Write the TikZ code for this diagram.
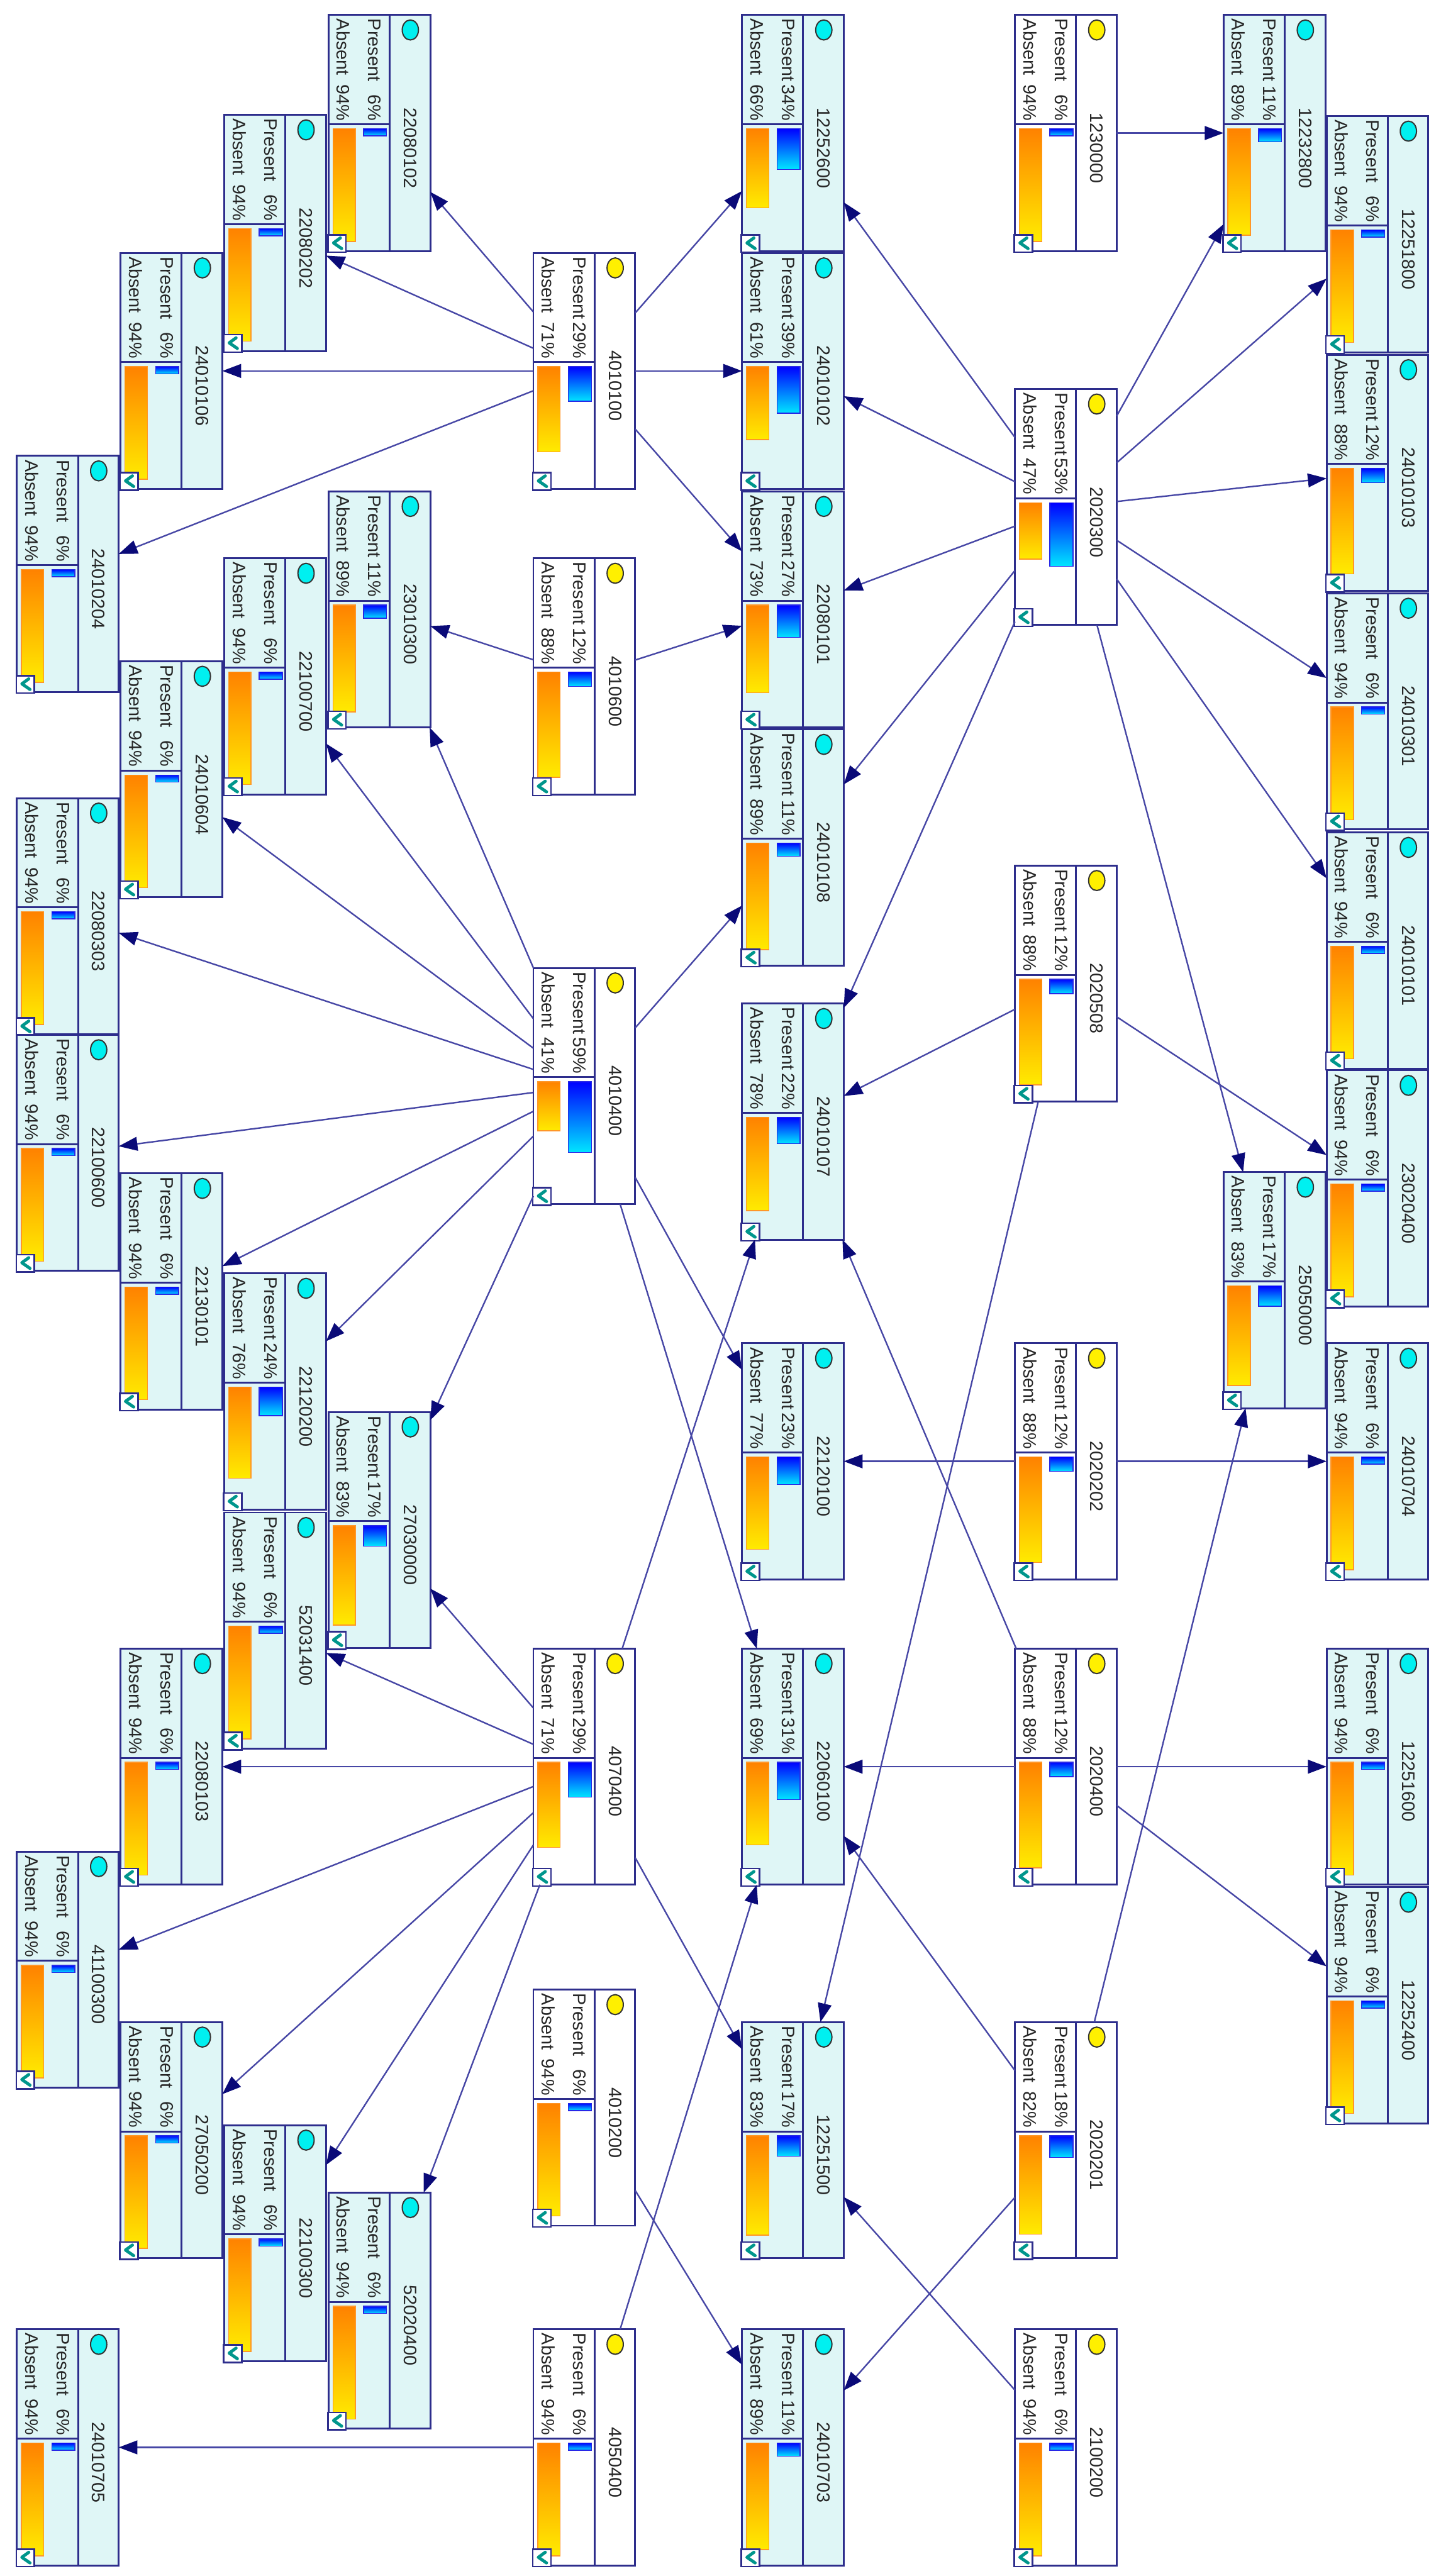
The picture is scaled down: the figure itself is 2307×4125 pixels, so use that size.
\documentclass[tikz,border=0pt]{standalone}
\usepackage{fontspec}
\setmainfont{Liberation Sans}
\usetikzlibrary{arrows.meta}
\definecolor{bnborder}{RGB}{45,45,140}
\definecolor{bnedge}{RGB}{70,70,165}
\definecolor{bnhead}{RGB}{10,10,120}
\definecolor{bncyanbg}{RGB}{223,246,246}
\definecolor{bncirc}{RGB}{0,240,240}
\definecolor{bnyel}{RGB}{255,240,0}
\definecolor{bnorangeA}{RGB}{255,130,0}
\definecolor{bnorangeB}{RGB}{255,235,0}
\definecolor{bnorangeL}{RGB}{255,150,40}
\definecolor{bnblueA}{RGB}{0,0,255}
\definecolor{bnblueB}{RGB}{0,230,255}
\definecolor{bnblueL}{RGB}{40,40,230}
\definecolor{bnchk}{RGB}{0,150,140}
\tikzset{
  bnbox/.style={draw=bnborder, line width=3pt, minimum width=163pt, minimum height=378pt, inner sep=0pt, outer sep=0pt, rectangle},
  bnline/.style={draw=bnborder, line width=3pt},
  bntext/.style={rotate=-90, inner sep=0pt, font=\fontsize{29}{34}\selectfont, text=black!85},
  bnedgestyle/.style={draw=bnedge, line width=2.4pt, -{Triangle[length=30pt,width=22pt,color=bnhead]}},
}
% #1 label, #2 left, #3 top, #4 present, #5 absent, #6 background, #7 circle colour
\newcommand{\bnnode}[7]{%
  \node[bnbox, fill=#6] (n#1) at ({#2+81.5},{#3+189}) {};
  \draw[bnline] ({#2+98},{#3}) -- ({#2+98},{#3+378});
  \draw[bnline] ({#2},{#3+175}) -- ({#2+98},{#3+175});
  \draw[draw=black!80, line width=2pt, fill=#7] ({#2+131},{#3+24}) ellipse [x radius=13pt, y radius=16pt];
  \node[bntext] at ({#2+131},{#3+213}) {#1};
  \node[bntext, anchor=west] at ({#2+74},{#3+6}) {\makebox[163pt]{Present\hfill #4\%}};
  \node[bntext, anchor=west] at ({#2+24},{#3+6}) {\makebox[163pt]{Absent\hfill #5\%}};
  \shadedraw[top color=bnorangeA, bottom color=bnorangeB, draw=bnorangeL, line width=1.5pt] ({#2+7},{#3+182}) rectangle ({#2+43},{#3+182+1.92*#5});
  \shadedraw[top color=bnblueA, bottom color=bnblueB, draw=bnblueL, line width=1.5pt] ({#2+56},{#3+182}) rectangle ({#2+93},{#3+182+1.92*#4});
  \draw[draw=bnborder, line width=2.5pt, fill=white] ({#2-1},{#3+352}) rectangle ({#2+28},{#3+380});
  \draw[draw=bnchk, line width=5pt, line cap=round, line join=round] ({#2+19},{#3+357}) -- ({#2+8},{#3+365}) -- ({#2+21},{#3+374});
}
\newcommand{\bnP}[5]{\bnnode{#1}{#2}{#3}{#4}{#5}{white}{bnyel}}
\newcommand{\bnC}[5]{\bnnode{#1}{#2}{#3}{#4}{#5}{bncyanbg}{bncirc}}
\begin{document}
\begin{tikzpicture}[x=1pt,y=-1pt]
\useasboundingbox[fill=white] (0,0) rectangle (2307,4125);
% parents
\bnP{4010100}{854}{405}{29}{71}
\bnP{4010600}{854}{894}{12}{88}
\bnP{4010400}{854}{1550}{59}{41}
\bnP{4070400}{854}{2640}{29}{71}
\bnP{4010200}{854}{3186}{6}{94}
\bnP{4050400}{854}{3730}{6}{94}
\bnP{1230000}{1625}{24}{6}{94}
\bnP{2020300}{1625}{623}{53}{47}
\bnP{2020508}{1625}{1386}{12}{88}
\bnP{2020202}{1625}{2151}{12}{88}
\bnP{2020400}{1625}{2640}{12}{88}
\bnP{2020201}{1625}{3238}{18}{82}
\bnP{2100200}{1625}{3730}{6}{94}
% children
\bnC{22080102}{526}{24}{6}{94}
\bnC{22080202}{359}{184}{6}{94}
\bnC{24010106}{193}{405}{6}{94}
\bnC{24010204}{27}{730}{6}{94}
\bnC{23010300}{526}{787}{11}{89}
\bnC{22100700}{359}{894}{6}{94}
\bnC{24010604}{193}{1059}{6}{94}
\bnC{22080303}{27}{1278}{6}{94}
\bnC{22100600}{27}{1657}{6}{94}
\bnC{22130101}{193}{1879}{6}{94}
\bnC{22120200}{359}{2039}{24}{76}
\bnC{27030000}{526}{2261}{17}{83}
\bnC{52031400}{359}{2422}{6}{94}
\bnC{22080103}{193}{2640}{6}{94}
\bnC{41100300}{27}{2965}{6}{94}
\bnC{27050200}{193}{3238}{6}{94}
\bnC{22100300}{359}{3403}{6}{94}
\bnC{52020400}{526}{3511}{6}{94}
\bnC{24010705}{27}{3730}{6}{94}
\bnC{12252600}{1188}{24}{34}{66}
\bnC{24010102}{1188}{405}{39}{61}
\bnC{22080101}{1188}{787}{27}{73}
\bnC{24010108}{1188}{1168}{11}{89}
\bnC{24010107}{1188}{1607}{22}{78}
\bnC{22120100}{1188}{2151}{23}{77}
\bnC{22060100}{1188}{2640}{31}{69}
\bnC{12251500}{1188}{3238}{17}{83}
\bnC{24010703}{1188}{3730}{11}{89}
\bnC{12232800}{1959}{24}{11}{89}
\bnC{25050000}{1959}{1877}{17}{83}
\bnC{12251800}{2124}{186}{6}{94}
\bnC{24010103}{2124}{568}{12}{88}
\bnC{24010301}{2124}{950}{6}{94}
\bnC{24010101}{2124}{1333}{6}{94}
\bnC{23020400}{2124}{1714}{6}{94}
\bnC{24010704}{2124}{2151}{6}{94}
\bnC{12251600}{2124}{2640}{6}{94}
\bnC{12252400}{2124}{3022}{6}{94}
% edges
\foreach \t in {22080102,22080202,24010106,24010204,12252600,24010102,22080101}
  \draw[bnedgestyle] (n4010100) -- (n\t);
\foreach \t in {23010300,22080101}
  \draw[bnedgestyle] (n4010600) -- (n\t);
\foreach \t in {23010300,22100700,24010604,22080303,22100600,22130101,22120200,27030000,24010108,22120100,22060100}
  \draw[bnedgestyle] (n4010400) -- (n\t);
\foreach \t in {27030000,52031400,22080103,41100300,27050200,22100300,52020400,24010107,12251500}
  \draw[bnedgestyle] (n4070400) -- (n\t);
\draw[bnedgestyle] (n4010200) -- (n24010703);
\foreach \t in {24010705,22060100}
  \draw[bnedgestyle] (n4050400) -- (n\t);
\draw[bnedgestyle] (n1230000) -- (n12232800);
\foreach \t in {12252600,24010102,22080101,24010108,24010107,25050000,12232800,12251800,24010103,24010301,24010101}
  \draw[bnedgestyle] (n2020300) -- (n\t);
\foreach \t in {24010107,23020400,12251500}
  \draw[bnedgestyle] (n2020508) -- (n\t);
\foreach \t in {22120100,24010704}
  \draw[bnedgestyle] (n2020202) -- (n\t);
\foreach \t in {22060100,12251600,12252400,24010107}
  \draw[bnedgestyle] (n2020400) -- (n\t);
\foreach \t in {22060100,25050000,24010703}
  \draw[bnedgestyle] (n2020201) -- (n\t);
\draw[bnedgestyle] (n2100200) -- (n12251500);
\end{tikzpicture}
\end{document}
